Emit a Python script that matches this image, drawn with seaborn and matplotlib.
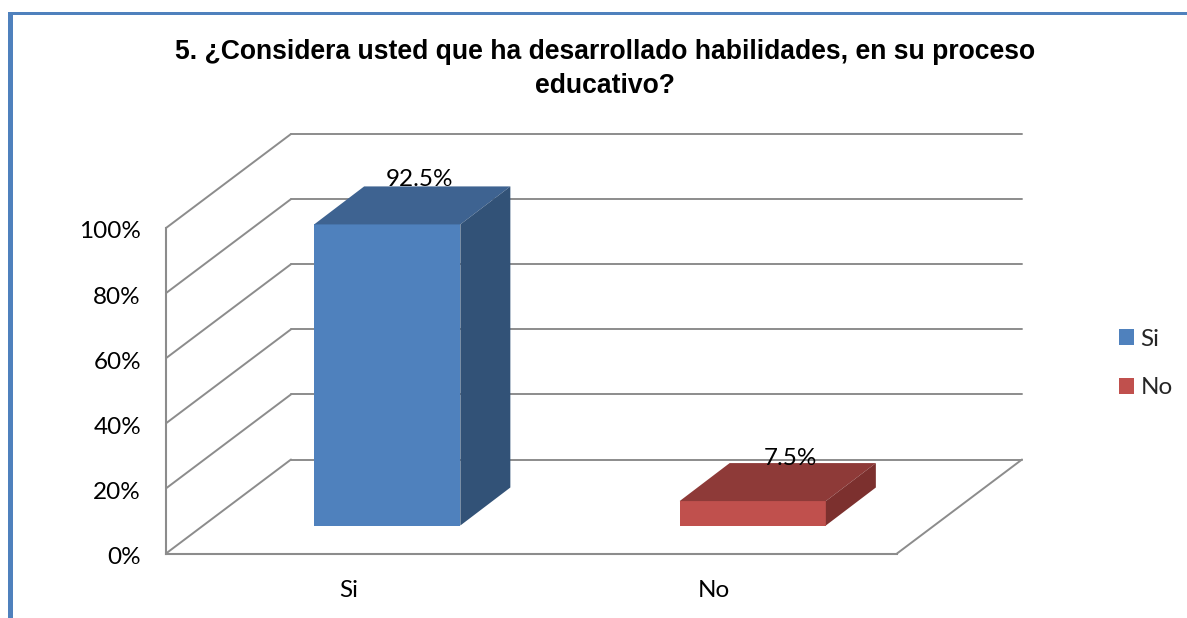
import matplotlib
matplotlib.use("Agg")
import matplotlib.pyplot as plt
import seaborn as sns
from matplotlib.lines import Line2D
from matplotlib.patches import Polygon, Rectangle
from matplotlib.transforms import Affine2D, IdentityTransform

sns.set_theme(style="white")
plt.rcParams["font.family"] = ["Lato", "DejaVu Sans"]

# Data
categories = ["Si", "No"]
values = [92.5, 7.5]
value_labels = ["92.5%", "7.5%"]
y_ticks = [0, 20, 40, 60, 80, 100]
y_tick_labels = ["0%", "20%", "40%", "60%", "80%", "100%"]
title = "5. ¿Considera usted que ha desarrollado habilidades, en su proceso\neducativo?"

# Colours: front, top, side
front_colors = ["#4F81BD", "#C0504D"]
top_colors = ["#3E6391", "#8E3A38"]
side_colors = ["#325277", "#7C302E"]
grid_color = "#8C8C8C"
border_color = "#4F81BD"

W, H = 1187, 618
fig = plt.figure(figsize=(W / 100, H / 100), dpi=100, facecolor="white")

# front plane of the fake 3D box, in pixels
ax = fig.add_axes([166 / W, 1 - 553.5 / H, 731 / W, 325.5 / H])
ax.patch.set_alpha(0)

sns.barplot(x=categories, y=values, hue=categories, palette=front_colors,
            width=0.4, legend=False, ax=ax, saturation=1, zorder=3)
ax.set_ylim(0, 100)
ax.set_xlim(-0.5, 1.5)
ax.set_yticks(y_ticks)
ax.set_yticklabels(y_tick_labels, fontsize=17.5)
ax.tick_params(axis="y", length=0, pad=18, colors="black")
ax.tick_params(axis="x", length=0, pad=19, colors="black", labelsize=17.5)
ax.set_xlabel("")
ax.set_ylabel("")

# tick text sits a bit lower than the gridline ends
for label in ax.get_yticklabels():
    label.set_transform(label.get_transform() + Affine2D().translate(0, -2))

for side in ["top", "right"]:
    ax.spines[side].set_visible(False)
for side in ["left", "bottom"]:
    ax.spines[side].set_color(grid_color)
    ax.spines[side].set_linewidth(1.5)

# depth of the box and of the bars, pixels (y up)
DEPTH = (125, 94)
BAR_SHIFT = (38.5, 28)
BAR_DEPTH = (50, 38)
LABEL_SHIFT = [(32, 45), (38, 43)]
identity = IdentityTransform()


def px_line(p0, p1, zorder=1):
    ax.add_line(Line2D([p0[0], p1[0]], [p0[1], p1[1]], color=grid_color, lw=1.4,
                       transform=identity, clip_on=False, zorder=zorder))


# walls and floor
for tick in y_ticks:
    a = ax.transData.transform((-0.5, tick))
    b = ax.transData.transform((1.5, tick))
    back_a = (a[0] + DEPTH[0], a[1] + DEPTH[1])
    back_b = (b[0] + DEPTH[0], b[1] + DEPTH[1])
    px_line(a, back_a)
    px_line(back_a, back_b)
floor_right = ax.transData.transform((1.5, 0))
px_line(floor_right, (floor_right[0] + DEPTH[0], floor_right[1] + DEPTH[1]))

# bars sit a little behind the front plane, with top and side faces
shift = Affine2D().translate(*BAR_SHIFT)
for i, bar in enumerate(ax.patches):
    bar.set_transform(ax.transData + shift)
    bar.set_clip_on(False)
    bar.set_edgecolor("none")
    x0, y0 = (ax.transData + shift).transform((bar.get_x(), 0))
    x1, y1 = (ax.transData + shift).transform((bar.get_x() + bar.get_width(), bar.get_height()))
    dx, dy = BAR_DEPTH
    ax.add_patch(Polygon([(x0, y1), (x1, y1), (x1 + dx, y1 + dy), (x0 + dx, y1 + dy)],
                         facecolor=top_colors[i], edgecolor="none",
                         transform=identity, clip_on=False, zorder=3))
    ax.add_patch(Polygon([(x1, y0), (x1 + dx, y0 + dy), (x1 + dx, y1 + dy), (x1, y1)],
                         facecolor=side_colors[i], edgecolor="none",
                         transform=identity, clip_on=False, zorder=3))
    ax.text((x0 + x1) / 2 + LABEL_SHIFT[i][0], y1 + LABEL_SHIFT[i][1], value_labels[i],
            transform=identity, ha="center", va="center", fontsize=17.5, color="black", zorder=5)

# legend
handles = [Rectangle((0, 0), 1, 1, facecolor=c, edgecolor="none") for c in front_colors]
fig.legend(handles, categories, loc="center left", bbox_to_anchor=(1119 / W, 1 - 363.5 / H),
           frameon=False, fontsize=17.5, handlelength=0.62, handleheight=0.62,
           handletextpad=0.27, labelspacing=1.13, borderpad=0, borderaxespad=0)

# title
fig.text(605 / W, 1 - 69 / H, title, ha="center", va="center", fontsize=19.1,
         fontweight="bold", family="Liberation Sans", color="black", linespacing=1.37)

# page border, left and top only
fig.add_artist(Rectangle((8 / W, 0), 5 / W, 1 - 12 / H, transform=fig.transFigure,
                         facecolor=border_color, edgecolor="none"))
fig.add_artist(Rectangle((8 / W, 1 - 15 / H), 1 - 8 / W, 3 / H, transform=fig.transFigure,
                         facecolor=border_color, edgecolor="none"))

fig.savefig("out.png", dpi=100, facecolor="white")
